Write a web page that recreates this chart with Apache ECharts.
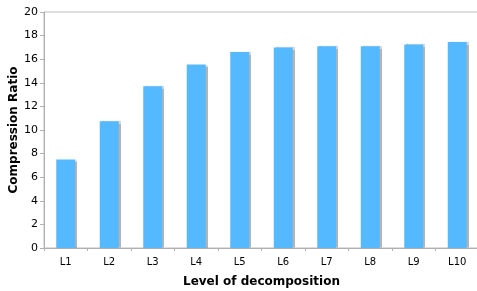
<!DOCTYPE html>
<html>
<head>
<meta charset="utf-8">
<script src="https://cdn.jsdelivr.net/npm/echarts@6/dist/echarts.min.js"></script>
<style>
  html, body { margin: 0; padding: 0; background: #fff; }
  #main { width: 477px; height: 291px; }
</style>
</head>
<body>
<div id="main"></div>
<script>
// data
var levels = ['L1', 'L2', 'L3', 'L4', 'L5', 'L6', 'L7', 'L8', 'L9', 'L10'];
var ratios = [7.5, 10.75, 13.7, 15.55, 16.6, 17.0, 17.1, 17.1, 17.25, 17.45];

var chart = echarts.init(document.getElementById('main'));
chart.setOption({
  animation: false,
  textStyle: { fontFamily: 'DejaVu Sans' },
  grid: {
    left: 44, right: -2, top: 12, bottom: 43,
    outerBoundsMode: 'none',
    containLabel: false,
    show: true, borderColor: '#bdbdbd', borderWidth: 1, backgroundColor: '#fff'
  },
  xAxis: {
    type: 'category',
    data: levels,
    name: 'Level of decomposition',
    nameLocation: 'middle',
    nameMoveOverlap: false,
    nameGap: 28,
    nameTextStyle: { fontWeight: 'bold', fontSize: 12, color: '#000' },
    axisLine: { lineStyle: { color: '#b0b0b0', width: 1 } },
    axisTick: { show: true, alignWithLabel: false, length: 3, lineStyle: { color: '#b0b0b0' } },
    axisLabel: { color: '#000', fontSize: 10, margin: 9 }
  },
  yAxis: {
    type: 'value',
    min: 0, max: 20, interval: 2,
    name: 'Compression Ratio',
    nameLocation: 'middle',
    nameMoveOverlap: false,
    nameGap: 24,
    nameTextStyle: { fontWeight: 'bold', fontSize: 12, color: '#000' },
    axisLine: { show: true, lineStyle: { color: '#b0b0b0', width: 1 } },
    axisTick: { show: true, length: 4, lineStyle: { color: '#b0b0b0' } },
    axisLabel: { color: '#000', fontSize: 11, margin: 6 },
    splitLine: { show: false }
  },
  series: [{
    type: 'bar',
    data: ratios,
    barWidth: 19,
    itemStyle: {
      color: '#54b9ff',
      shadowColor: 'rgba(130,130,130,0.6)',
      shadowOffsetX: 2,
      shadowOffsetY: 0,
      shadowBlur: 1
    }
  }]
});
</script>
</body>
</html>
